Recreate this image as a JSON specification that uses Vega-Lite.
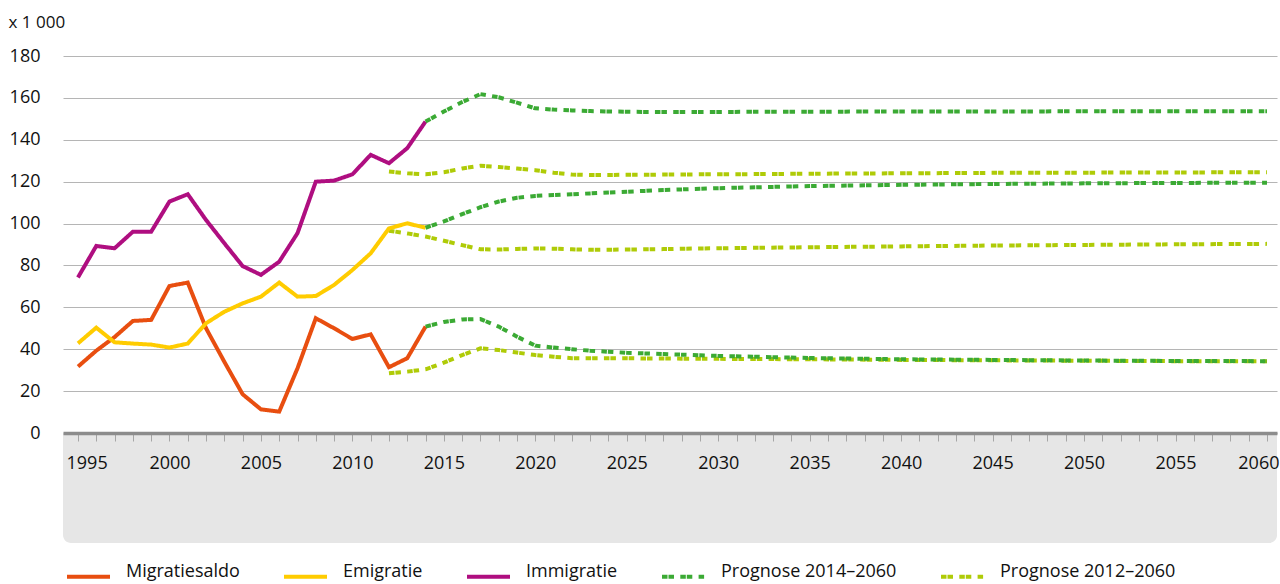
{
  "$schema": "https://vega.github.io/schema/vega-lite/v6.json",
  "width": 1214,
  "height": 377,
  "autosize": {"type": "none"},
  "padding": {"left": 63, "top": 56, "right": 3, "bottom": 151},
  "background": "white",
  "config": {"view": {"stroke": null}, "font": "Open Sans"},
  "datasets": {
    "reeksen": [
      {"reeks": "mig", "groep": "Migratiesaldo"},
      {"reeks": "emi", "groep": "Emigratie"},
      {"reeks": "imm", "groep": "Immigratie"},
      {"reeks": "p14m", "groep": "Prognose 2014–2060"},
      {"reeks": "p14e", "groep": "Prognose 2014–2060"},
      {"reeks": "p14i", "groep": "Prognose 2014–2060"},
      {"reeks": "p12m", "groep": "Prognose 2012–2060"},
      {"reeks": "p12e", "groep": "Prognose 2012–2060"},
      {"reeks": "p12i", "groep": "Prognose 2012–2060"}
    ],
    "waarden": [
      {"r": "mig", "j": 1995, "v": 31.7}, {"r": "mig", "j": 1996, "v": 39.3}, {"r": "mig", "j": 1997, "v": 45.8}, {"r": "mig", "j": 1998, "v": 53.5}, {"r": "mig", "j": 1999, "v": 54.0},
      {"r": "mig", "j": 2000, "v": 70.2}, {"r": "mig", "j": 2001, "v": 71.8}, {"r": "mig", "j": 2002, "v": 50.0}, {"r": "mig", "j": 2003, "v": 34.0}, {"r": "mig", "j": 2004, "v": 18.5},
      {"r": "mig", "j": 2005, "v": 11.3}, {"r": "mig", "j": 2006, "v": 10.2}, {"r": "mig", "j": 2007, "v": 30.9}, {"r": "mig", "j": 2008, "v": 54.8}, {"r": "mig", "j": 2009, "v": 50.0},
      {"r": "mig", "j": 2010, "v": 44.9}, {"r": "mig", "j": 2011, "v": 47.1}, {"r": "mig", "j": 2012, "v": 31.4}, {"r": "mig", "j": 2013, "v": 35.7}, {"r": "mig", "j": 2014, "v": 50.8},

      {"r": "emi", "j": 1995, "v": 42.8}, {"r": "emi", "j": 1996, "v": 50.3}, {"r": "emi", "j": 1997, "v": 43.3}, {"r": "emi", "j": 1998, "v": 42.7}, {"r": "emi", "j": 1999, "v": 42.2},
      {"r": "emi", "j": 2000, "v": 40.8}, {"r": "emi", "j": 2001, "v": 42.7}, {"r": "emi", "j": 2002, "v": 52.4}, {"r": "emi", "j": 2003, "v": 57.9}, {"r": "emi", "j": 2004, "v": 61.9},
      {"r": "emi", "j": 2005, "v": 65.1}, {"r": "emi", "j": 2006, "v": 71.8}, {"r": "emi", "j": 2007, "v": 65.1}, {"r": "emi", "j": 2008, "v": 65.4}, {"r": "emi", "j": 2009, "v": 70.7},
      {"r": "emi", "j": 2010, "v": 77.8}, {"r": "emi", "j": 2011, "v": 85.8}, {"r": "emi", "j": 2012, "v": 97.7}, {"r": "emi", "j": 2013, "v": 100.1}, {"r": "emi", "j": 2014, "v": 98.0},

      {"r": "imm", "j": 1995, "v": 74.3}, {"r": "imm", "j": 1996, "v": 89.3}, {"r": "imm", "j": 1997, "v": 88.2}, {"r": "imm", "j": 1998, "v": 96.1}, {"r": "imm", "j": 1999, "v": 96.1},
      {"r": "imm", "j": 2000, "v": 110.5}, {"r": "imm", "j": 2001, "v": 114.0}, {"r": "imm", "j": 2002, "v": 101.7}, {"r": "imm", "j": 2003, "v": 90.6}, {"r": "imm", "j": 2004, "v": 79.7},
      {"r": "imm", "j": 2005, "v": 75.5}, {"r": "imm", "j": 2006, "v": 81.8}, {"r": "imm", "j": 2007, "v": 95.4}, {"r": "imm", "j": 2008, "v": 120.0}, {"r": "imm", "j": 2009, "v": 120.5},
      {"r": "imm", "j": 2010, "v": 123.5}, {"r": "imm", "j": 2011, "v": 132.8}, {"r": "imm", "j": 2012, "v": 128.8}, {"r": "imm", "j": 2013, "v": 136.0}, {"r": "imm", "j": 2014, "v": 148.7},

      {"r": "p14i", "j": 2014, "v": 148.7}, {"r": "p14i", "j": 2015, "v": 153.5}, {"r": "p14i", "j": 2016, "v": 158.0}, {"r": "p14i", "j": 2017, "v": 161.8}, {"r": "p14i", "j": 2018, "v": 160.3},
      {"r": "p14i", "j": 2019, "v": 157.7}, {"r": "p14i", "j": 2020, "v": 155.0}, {"r": "p14i", "j": 2021, "v": 154.4}, {"r": "p14i", "j": 2022, "v": 154.0}, {"r": "p14i", "j": 2023, "v": 153.7},
      {"r": "p14i", "j": 2024, "v": 153.5}, {"r": "p14i", "j": 2025, "v": 153.4}, {"r": "p14i", "j": 2026, "v": 153.3}, {"r": "p14i", "j": 2027, "v": 153.3}, {"r": "p14i", "j": 2028, "v": 153.3},
      {"r": "p14i", "j": 2029, "v": 153.3}, {"r": "p14i", "j": 2030, "v": 153.3}, {"r": "p14i", "j": 2035, "v": 153.4}, {"r": "p14i", "j": 2040, "v": 153.5}, {"r": "p14i", "j": 2045, "v": 153.5},
      {"r": "p14i", "j": 2050, "v": 153.6}, {"r": "p14i", "j": 2055, "v": 153.6}, {"r": "p14i", "j": 2060, "v": 153.6},

      {"r": "p14e", "j": 2014, "v": 98.0}, {"r": "p14e", "j": 2015, "v": 101.0}, {"r": "p14e", "j": 2016, "v": 104.5}, {"r": "p14e", "j": 2017, "v": 107.8}, {"r": "p14e", "j": 2018, "v": 110.5},
      {"r": "p14e", "j": 2019, "v": 112.3}, {"r": "p14e", "j": 2020, "v": 113.2}, {"r": "p14e", "j": 2021, "v": 113.6}, {"r": "p14e", "j": 2022, "v": 114.0}, {"r": "p14e", "j": 2023, "v": 114.4},
      {"r": "p14e", "j": 2024, "v": 114.8}, {"r": "p14e", "j": 2025, "v": 115.2}, {"r": "p14e", "j": 2026, "v": 115.6}, {"r": "p14e", "j": 2027, "v": 116.0}, {"r": "p14e", "j": 2028, "v": 116.3},
      {"r": "p14e", "j": 2029, "v": 116.6}, {"r": "p14e", "j": 2030, "v": 116.9}, {"r": "p14e", "j": 2035, "v": 117.9}, {"r": "p14e", "j": 2040, "v": 118.5}, {"r": "p14e", "j": 2045, "v": 118.9},
      {"r": "p14e", "j": 2050, "v": 119.2}, {"r": "p14e", "j": 2055, "v": 119.4}, {"r": "p14e", "j": 2060, "v": 119.5},

      {"r": "p14m", "j": 2014, "v": 50.8}, {"r": "p14m", "j": 2015, "v": 53.0}, {"r": "p14m", "j": 2016, "v": 54.2}, {"r": "p14m", "j": 2017, "v": 54.4}, {"r": "p14m", "j": 2018, "v": 50.8},
      {"r": "p14m", "j": 2019, "v": 46.0}, {"r": "p14m", "j": 2020, "v": 41.7}, {"r": "p14m", "j": 2021, "v": 40.8}, {"r": "p14m", "j": 2022, "v": 40.0}, {"r": "p14m", "j": 2023, "v": 39.3},
      {"r": "p14m", "j": 2024, "v": 38.8}, {"r": "p14m", "j": 2025, "v": 38.3}, {"r": "p14m", "j": 2026, "v": 38.0}, {"r": "p14m", "j": 2027, "v": 37.7}, {"r": "p14m", "j": 2028, "v": 37.4},
      {"r": "p14m", "j": 2029, "v": 37.1}, {"r": "p14m", "j": 2030, "v": 36.8}, {"r": "p14m", "j": 2035, "v": 35.8}, {"r": "p14m", "j": 2040, "v": 35.2}, {"r": "p14m", "j": 2045, "v": 34.9},
      {"r": "p14m", "j": 2050, "v": 34.6}, {"r": "p14m", "j": 2055, "v": 34.4}, {"r": "p14m", "j": 2060, "v": 34.3},

      {"r": "p12i", "j": 2012, "v": 124.8}, {"r": "p12i", "j": 2013, "v": 124.0}, {"r": "p12i", "j": 2014, "v": 123.5}, {"r": "p12i", "j": 2015, "v": 124.5}, {"r": "p12i", "j": 2016, "v": 126.3},
      {"r": "p12i", "j": 2017, "v": 127.6}, {"r": "p12i", "j": 2018, "v": 127.0}, {"r": "p12i", "j": 2019, "v": 126.3}, {"r": "p12i", "j": 2020, "v": 125.5}, {"r": "p12i", "j": 2021, "v": 124.3},
      {"r": "p12i", "j": 2022, "v": 123.4}, {"r": "p12i", "j": 2023, "v": 123.2}, {"r": "p12i", "j": 2024, "v": 123.2}, {"r": "p12i", "j": 2025, "v": 123.3}, {"r": "p12i", "j": 2026, "v": 123.3},
      {"r": "p12i", "j": 2027, "v": 123.4}, {"r": "p12i", "j": 2028, "v": 123.4}, {"r": "p12i", "j": 2029, "v": 123.5}, {"r": "p12i", "j": 2030, "v": 123.5}, {"r": "p12i", "j": 2035, "v": 123.8},
      {"r": "p12i", "j": 2040, "v": 124.0}, {"r": "p12i", "j": 2045, "v": 124.2}, {"r": "p12i", "j": 2050, "v": 124.3}, {"r": "p12i", "j": 2055, "v": 124.4}, {"r": "p12i", "j": 2060, "v": 124.5},

      {"r": "p12e", "j": 2012, "v": 96.6}, {"r": "p12e", "j": 2013, "v": 95.3}, {"r": "p12e", "j": 2014, "v": 93.8}, {"r": "p12e", "j": 2015, "v": 91.8}, {"r": "p12e", "j": 2016, "v": 89.7},
      {"r": "p12e", "j": 2017, "v": 87.7}, {"r": "p12e", "j": 2018, "v": 87.6}, {"r": "p12e", "j": 2019, "v": 87.9}, {"r": "p12e", "j": 2020, "v": 88.1}, {"r": "p12e", "j": 2021, "v": 88.0},
      {"r": "p12e", "j": 2022, "v": 87.7}, {"r": "p12e", "j": 2023, "v": 87.5}, {"r": "p12e", "j": 2024, "v": 87.5}, {"r": "p12e", "j": 2025, "v": 87.6}, {"r": "p12e", "j": 2026, "v": 87.7},
      {"r": "p12e", "j": 2027, "v": 87.8}, {"r": "p12e", "j": 2028, "v": 88.0}, {"r": "p12e", "j": 2029, "v": 88.1}, {"r": "p12e", "j": 2030, "v": 88.2}, {"r": "p12e", "j": 2035, "v": 88.7},
      {"r": "p12e", "j": 2040, "v": 89.1}, {"r": "p12e", "j": 2045, "v": 89.5}, {"r": "p12e", "j": 2050, "v": 89.8}, {"r": "p12e", "j": 2055, "v": 90.1}, {"r": "p12e", "j": 2060, "v": 90.3},

      {"r": "p12m", "j": 2012, "v": 28.5}, {"r": "p12m", "j": 2013, "v": 29.3}, {"r": "p12m", "j": 2014, "v": 30.4}, {"r": "p12m", "j": 2015, "v": 33.6}, {"r": "p12m", "j": 2016, "v": 37.2},
      {"r": "p12m", "j": 2017, "v": 40.4}, {"r": "p12m", "j": 2018, "v": 39.6}, {"r": "p12m", "j": 2019, "v": 38.4}, {"r": "p12m", "j": 2020, "v": 37.2}, {"r": "p12m", "j": 2021, "v": 36.4},
      {"r": "p12m", "j": 2022, "v": 35.7}, {"r": "p12m", "j": 2023, "v": 35.7}, {"r": "p12m", "j": 2024, "v": 35.7}, {"r": "p12m", "j": 2025, "v": 35.7}, {"r": "p12m", "j": 2026, "v": 35.6},
      {"r": "p12m", "j": 2027, "v": 35.6}, {"r": "p12m", "j": 2028, "v": 35.5}, {"r": "p12m", "j": 2029, "v": 35.5}, {"r": "p12m", "j": 2030, "v": 35.4}, {"r": "p12m", "j": 2035, "v": 35.2},
      {"r": "p12m", "j": 2040, "v": 34.9}, {"r": "p12m", "j": 2045, "v": 34.7}, {"r": "p12m", "j": 2050, "v": 34.5}, {"r": "p12m", "j": 2055, "v": 34.3}, {"r": "p12m", "j": 2060, "v": 34.2}
    ]
  },
  "layer": [
    {
      "data": {"values": [{}]},
      "mark": {"type": "rect", "color": "#e6e6e6", "cornerRadiusBottomLeft": 8, "cornerRadiusBottomRight": 8},
      "encoding": {
        "x": {"datum": 1994.18, "type": "quantitative", "scale": {"domain": [1994.18, 2060.547], "nice": false, "zero": false}},
        "x2": {"datum": 2060.547},
        "y": {"datum": 0, "type": "quantitative", "scale": {"domain": [0, 180], "nice": false}},
        "y2": {"datum": -52.5}
      }
    },
    {
      "data": {"name": "waarden"},
      "transform": [
        {"lookup": "r", "from": {"data": {"name": "reeksen"}, "key": "reeks", "fields": ["groep"]}},
        {"filter": "datum.groep == 'Prognose 2012–2060'"}
      ],
      "mark": {"type": "line", "strokeWidth": 4, "strokeCap": "butt", "strokeJoin": "miter"},
      "encoding": {
        "x": {"field": "j", "type": "quantitative", "title": null,
          "scale": {"domain": [1994.18, 2060.547], "nice": false, "zero": false},
          "axis": {
            "values": [1995,1996,1997,1998,1999,2000,2001,2002,2003,2004,2005,2006,2007,2008,2009,2010,2011,2012,2013,2014,2015,2016,2017,2018,2019,2020,2021,2022,2023,2024,2025,2026,2027,2028,2029,2030,2031,2032,2033,2034,2035,2036,2037,2038,2039,2040,2041,2042,2043,2044,2045,2046,2047,2048,2049,2050,2051,2052,2053,2054,2055,2056,2057,2058,2059,2060],
            "tickCount": 80,
            "format": "d",
            "labelExpr": "datum.value % 5 === 0 ? datum.label : ''",
            "grid": false, "domainColor": "#8c8c8c", "domainWidth": 3.5,
            "tickColor": "#a6a6a6", "tickSize": 8, "tickWidth": 1,
            "labelFontSize": 18, "labelFont": "Open Sans", "labelColor": "#111111", "labelPadding": 13,
            "labelFlush": 20, "labelFlushOffset": 12, "labelOverlap": false, "zindex": 1
          }
        },
        "y": {"field": "v", "type": "quantitative", "title": "x 1 000",
          "scale": {"domain": [0, 180], "nice": false},
          "axis": {
            "values": [0, 20, 40, 60, 80, 100, 120, 140, 160, 180],
            "tickCount": 20,
            "grid": true, "gridColor": "#b5b5b5", "gridWidth": 1,
            "domain": false, "ticks": false,
            "labelFontSize": 18, "labelFont": "Open Sans", "labelColor": "#111111", "labelPadding": 23,
            "titleAngle": 0, "titleAlign": "left", "titleBaseline": "alphabetic", "titleX": -55, "titleY": -29,
            "titleFontSize": 17, "titleFont": "Open Sans", "titleFontWeight": "normal", "titleColor": "#111111"
          }
        },
        "color": {"field": "groep", "type": "nominal",
          "scale": {"domain": ["Migratiesaldo", "Emigratie", "Immigratie", "Prognose 2014–2060", "Prognose 2012–2060"],
                    "range": ["#E84E10", "#FFCC00", "#AF0E80", "#3BAA34", "#AFCB07"]},
          "legend": {"title": null, "orient": "none", "legendX": 2, "legendY": 497, "direction": "horizontal", "columns": 5,
                     "symbolType": "stroke", "symbolSize": 1849, "symbolStrokeWidth": 4, "labelFontSize": 18, "labelFont": "Open Sans",
                     "labelColor": "#111111", "labelLimit": 300, "labelOffset": 14, "labelBaseline": "alphabetic", "columnPadding": 36, "padding": 0}
        },
        "strokeDash": {"field": "groep", "type": "nominal",
          "scale": {"domain": ["Migratiesaldo", "Emigratie", "Immigratie", "Prognose 2014–2060", "Prognose 2012–2060"],
                    "range": [[1, 0], [1, 0], [1, 0], [5.5, 1, 5.5, 6.3], [5.5, 1, 5.5, 6.3]]},
          "legend": {"title": null, "orient": "none", "legendX": 2, "legendY": 497, "direction": "horizontal", "columns": 5,
                     "symbolType": "stroke", "symbolSize": 1849, "symbolStrokeWidth": 4, "labelFontSize": 18, "labelFont": "Open Sans",
                     "labelColor": "#111111", "labelLimit": 300, "labelOffset": 14, "labelBaseline": "alphabetic", "columnPadding": 36, "padding": 0}
        },
        "detail": {"field": "r"}
      }
    },
    {
      "data": {"name": "waarden"},
      "transform": [
        {"lookup": "r", "from": {"data": {"name": "reeksen"}, "key": "reeks", "fields": ["groep"]}},
        {"filter": "datum.groep != 'Prognose 2012–2060'"}
      ],
      "mark": {"type": "line", "strokeWidth": 4, "strokeCap": "butt", "strokeJoin": "miter"},
      "encoding": {
        "x": {"field": "j", "type": "quantitative"},
        "y": {"field": "v", "type": "quantitative"},
        "color": {"field": "groep", "type": "nominal"},
        "strokeDash": {"field": "groep", "type": "nominal"},
        "detail": {"field": "r"}
      }
    }
  ]
}
